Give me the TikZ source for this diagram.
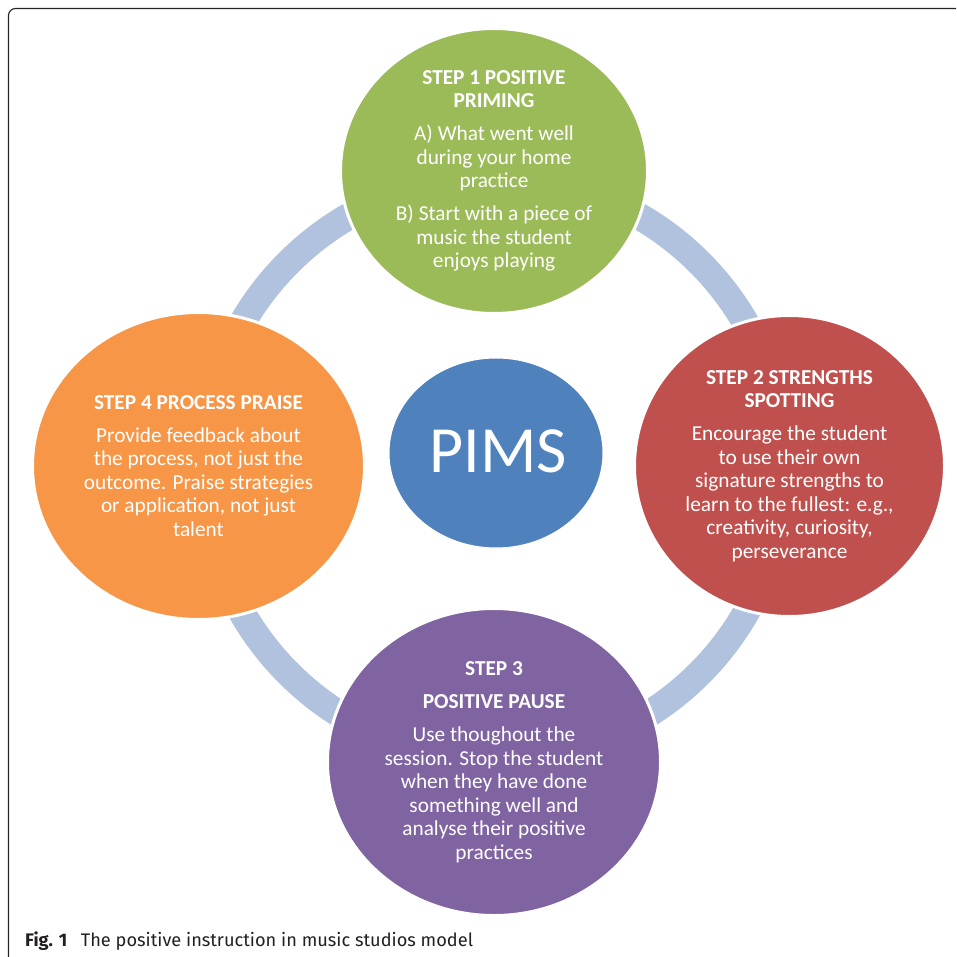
\documentclass[tikz,border=0pt]{standalone}
\usepackage{fontspec}
\setmainfont{Carlito}
\newfontfamily\capfont{Fira Sans}
\usetikzlibrary{shapes.geometric}

\definecolor{primegreen}{RGB}{155,187,89}
\definecolor{spotred}{RGB}{192,80,77}
\definecolor{pausepurple}{RGB}{128,100,162}
\definecolor{praiseorange}{RGB}{247,150,70}
\definecolor{hubblue}{RGB}{79,129,189}
\definecolor{ringblue}{RGB}{176,194,222}
\definecolor{captext}{RGB}{35,31,32}

\begin{document}
\begin{tikzpicture}[
  x=1pt,
  y=-1pt,
  stepcirc/.style={ellipse, draw=white, line width=3pt, inner sep=0pt},
  steptext/.style={align=center, text=white, inner sep=0pt, font=\fontsize{21.3}{23.5}\selectfont},
  ringline/.style={draw=ringblue, line width=27pt},
  frameline/.style={draw=black!85, line width=1.1pt, rounded corners=7pt}
]
\useasboundingbox (0,0) rectangle (956,957);

% frame of the figure
\coordinate (fbl) at (8.5,957);
\coordinate (ftl) at (8.5,8.5);
\coordinate (ftr) at (956,8.5);
\draw[frameline] (fbl) -- (ftl) -- (ftr);

% ring behind the steps
\coordinate (ringc) at (494,468);
\draw[ringline] (ringc) circle[radius=290.5pt];

% the four steps
\foreach \nm/\cx/\cy/\wd/\ht/\col in {
  prime/494/171/307/285/primegreen,
  spot/789.5/466/310/301/spotred,
  pause/494/762/333/307/pausepurple,
  praise/198.5/466/332/307/praiseorange} {
  \node[stepcirc, fill=\col, minimum width=\wd pt, minimum height=\ht pt] (\nm) at (\cx,\cy) {};
}

\node[steptext] (primetxt) at (prime) {\textbf{STEP 1 POSITIVE}\\\textbf{PRIMING}\\[9.5pt]
  A) What went well\\during your home\\practice\\[9.5pt]
  B) Start with a piece of\\music the student\\enjoys playing};
\node[steptext] (spottxt) at (spot) {\textbf{STEP 2 STRENGTHS}\\\textbf{SPOTTING}\\[9.5pt]
  Encourage the student\\to use their own\\signature strengths to\\learn to the fullest: e.g.,\\creativity, curiosity,\\perseverance};
\node[steptext] (pausetxt) at (pause) {\textbf{STEP 3}\\[9.5pt]\textbf{POSITIVE PAUSE}\\[9.5pt]
  Use thoughout the\\session. Stop the student\\when they have done\\something well and\\analyse their positive\\practices};
\node[steptext] (praisetxt) at (praise) {\textbf{STEP 4 PROCESS PRAISE}\\[9.5pt]
  Provide feedback about\\the process, not just the\\outcome. Praise strategies\\or application, not just\\talent};

% centre
\node[stepcirc, fill=hubblue, minimum width=216pt, minimum height=192pt] (hub) at (496,453) {};
\node[text=white, inner sep=0pt, font=\fontsize{66}{70}\selectfont] (pims) at (498,451) {PIMS};

% caption
\node[anchor=base west, inner sep=0pt, text=captext, font=\capfont\fontsize{18.2}{21}\selectfont] (cap) at (25,946)
  {\textbf{Fig. 1}\hspace{0.75em}The positive instruction in music studios model};
\end{tikzpicture}
\end{document}
